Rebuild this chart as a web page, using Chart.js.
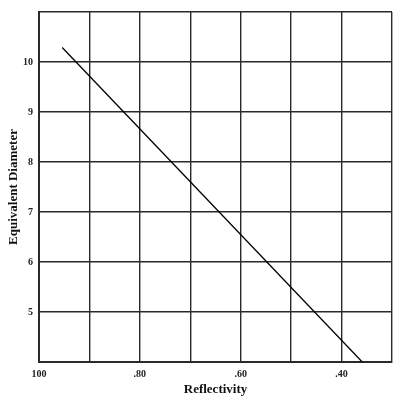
<!DOCTYPE html>
<html lang="en">
<head>
  <meta charset="UTF-8">
  <title>Equivalent Diameter vs Reflectivity</title>
  <script src="https://cdn.jsdelivr.net/npm/chart.js"></script>
  <style>
    html, body {
      margin: 0;
      padding: 0;
      background: #fff;
    }
    #wrap {
      width: 400px;
      height: 397px;
    }
  </style>
</head>
<body>

<div id="wrap">
  <canvas id="grafica" width="400" height="397"></canvas>
</div>

<script>
  // valores
  const reflectivity = [0.954, 0.359];
  const diameter = [10.29, 4.0];

  const xTickValues = [1.0, 0.8, 0.6, 0.4];
  const xTickText = ["100", ".80", ".60", ".40"];
  const yTickValues = [5, 6, 7, 8, 9, 10];
  const yTickText = ["5", "6", "7", "8", "9", "10"];

  const puntos = reflectivity.map((x, i) => ({ x: x, y: diameter[i] }));

  const serif = "'Liberation Serif', 'DejaVu Serif', serif";
  const gridColor = '#2a2a2a';

  function etiqueta(valores, textos, v) {
    const i = valores.findIndex(t => Math.abs(t - v) < 1e-6);
    return i >= 0 ? textos[i] : '';
  }

  new Chart(document.getElementById("grafica"), {
    type: 'line',
    data: {
      datasets: [{
        data: puntos,
        borderColor: '#000',
        borderWidth: 1.3,
        pointRadius: 0,
        fill: false,
        tension: 0
      }]
    },
    options: {
      responsive: false,
      animation: false,
      layout: { padding: { top: 9, right: 8, left: 0, bottom: 0 } },
      plugins: {
        legend: { display: false },
        tooltip: { enabled: false }
      },
      scales: {
        x: {
          type: 'linear',
          reverse: true,
          min: 0.3,
          max: 1.0,
          afterFit: s => { s.height = 35; },
          border: { color: gridColor, width: 2 },
          grid: { color: gridColor, lineWidth: 1.4, drawTicks: false },
          ticks: {
            stepSize: 0.1,
            padding: 6,
            color: '#222',
            font: { family: serif, size: 10, weight: 'bold' },
            callback: v => etiqueta(xTickValues, xTickText, v)
          },
          title: {
            display: true,
            text: 'Reflectivity',
            color: '#111',
            padding: { top: 0, bottom: 0 },
            font: { family: serif, size: 13, weight: 'bold' }
          }
        },
        y: {
          type: 'linear',
          min: 4,
          max: 11,
          afterFit: s => { s.width = 39; },
          border: { color: gridColor, width: 2 },
          grid: { color: gridColor, lineWidth: 1.4, drawTicks: false },
          ticks: {
            stepSize: 1,
            padding: 6,
            color: '#222',
            font: { family: serif, size: 10, weight: 'bold' },
            callback: v => etiqueta(yTickValues, yTickText, v)
          },
          title: {
            display: true,
            text: 'Equivalent Diameter',
            color: '#111',
            padding: { top: 6, bottom: 0 },
            font: { family: serif, size: 13, weight: 'bold' }
          }
        }
      }
    }
  });
</script>

</body>
</html>
